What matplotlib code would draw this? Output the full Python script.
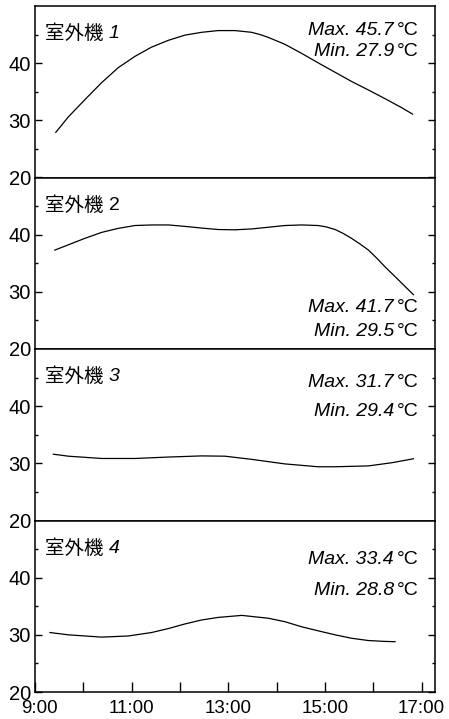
import matplotlib
matplotlib.use("Agg")
import matplotlib.pyplot as plt
import matplotlib.transforms as mtransforms

plt.rcParams['font.family'] = ['Liberation Sans', 'Noto Sans CJK JP', 'DejaVu Sans']

# ---- data (hours as decimal, temperature in deg C) ----
t1 = [9.43, 9.69, 10.03, 10.38, 10.72, 11.07, 11.41, 11.76, 12.10, 12.45, 12.79, 13.14,
      13.48, 13.66, 13.83, 14.00, 14.17, 14.52, 14.86, 15.21, 15.55, 15.90, 16.24, 16.59, 16.81]
v1 = [27.9, 30.6, 33.6, 36.6, 39.2, 41.2, 42.8, 44.0, 44.9, 45.4, 45.7, 45.7,
      45.4, 45.0, 44.5, 43.9, 43.3, 41.7, 40.05, 38.4, 36.8, 35.3, 33.8, 32.2, 31.1]

t2 = [9.41, 10.03, 10.38, 10.72, 11.07, 11.41, 11.76, 12.10, 12.45, 12.79, 13.14,
      13.48, 13.83, 14.17, 14.52, 14.86, 15.03, 15.21, 15.38, 15.55, 15.72, 15.90,
      16.07, 16.24, 16.41, 16.59, 16.83]
v2 = [37.3, 39.35, 40.4, 41.1, 41.6, 41.7, 41.7, 41.45, 41.15, 40.9, 40.85,
      41.0, 41.3, 41.6, 41.7, 41.6, 41.35, 40.9, 40.2, 39.35, 38.4, 37.3,
      35.9, 34.4, 33.0, 31.5, 29.5]

t3 = [9.38, 9.69, 10.38, 11.07, 11.76, 12.45, 12.93, 13.48, 14.17, 14.86, 15.21,
      15.90, 16.38, 16.83]
v3 = [31.6, 31.25, 30.85, 30.85, 31.1, 31.3, 31.25, 30.7, 29.9, 29.4, 29.4,
      29.55, 30.1, 30.8]

t4 = [9.31, 9.69, 10.38, 10.93, 11.41, 11.76, 12.10, 12.45, 12.79, 13.28, 13.83,
      14.17, 14.52, 14.86, 15.21, 15.55, 15.90, 16.24, 16.45]
v4 = [30.4, 30.0, 29.6, 29.8, 30.4, 31.1, 31.9, 32.6, 33.05, 33.4, 32.9,
      32.3, 31.4, 30.7, 30.0, 29.4, 29.0, 28.85, 28.8]

unit_names = ['室外機 ', '室外機 ', '室外機 ', '室外機 ']
unit_nums = ['1', '2', '3', '4']
unit_num_italic = [True, False, True, True]
max_vals = ['45.7', '41.7', '31.7', '33.4']
min_vals = ['27.9', '29.5', '29.4', '28.8']

x_ticks = [9, 11, 13, 15, 17]
x_ticklabels = ['9:00', '11:00', '13:00', '15:00', '17:00']
y_ticks = [20, 30, 40]
y_minor = [25, 35, 45]

# text positions (axes fraction) for Max / Min lines
max_y = [0.860, 0.242, 0.802, 0.773]
min_y = [0.732, 0.102, 0.638, 0.592]

times = [t1, t2, t3, t4]
vals = [v1, v2, v3, v4]

W, H = 449, 719
fig = plt.figure(figsize=(W / 100, H / 100), dpi=100)
left, right = 35 / W, 435 / W
top, bottom = 1 - 6 / H, 1 - 692 / H
ph = (top - bottom) / 4

axes = []
for i in range(4):
    ax = fig.add_axes([left, top - (i + 1) * ph, right - left, ph])
    axes.append(ax)
    ax.plot(times[i], vals[i], color='black', lw=0.9)
    ax.set_xlim(9, 9 + 400 / 48.33)
    ax.set_ylim(20, 50)
    ax.set_yticks(y_ticks)
    ax.set_yticks(y_minor, minor=True)
    ax.set_yticklabels([str(v) for v in y_ticks], fontsize=14.5)
    ax.tick_params(axis='y', which='major', direction='in', length=5, width=1,
                   left=True, right=True, pad=3)
    ax.tick_params(axis='y', which='minor', direction='in', length=2.5, width=1,
                   left=True, right=True)
    for s in ax.spines.values():
        s.set_linewidth(1.1)
    ax.set_xticks(x_ticks)
    ax.set_xticks([10, 12, 14, 16], minor=True)
    if i < 3:
        ax.tick_params(axis='x', which='both', bottom=False, top=False, labelbottom=False)
    else:
        ax.set_xticklabels(x_ticklabels, fontsize=13.5)
        ax.tick_params(axis='x', which='both', direction='in', length=7, width=1,
                       bottom=True, top=False, pad=6)
        lab0 = ax.get_xticklabels()[0]
        lab0.set_transform(lab0.get_transform() +
                           mtransforms.ScaledTranslation(4 / 100, 0, fig.dpi_scale_trans))

    # unit label
    t = ax.text(10 / 400, 0.837, unit_names[i], transform=ax.transAxes,
                ha='left', va='center', fontsize=14)
    ax.annotate(unit_nums[i], xycoords=t, xy=(1, 0.5), ha='left', va='center',
                fontsize=14, style='italic' if unit_num_italic[i] else 'normal')

    # Max / Min
    for yy, lab, val in [(max_y[i], 'Max. ', max_vals[i]), (min_y[i], 'Min. ', min_vals[i])]:
        c = ax.text(384 / 400, yy, '°C', transform=ax.transAxes, ha='right', va='center',
                    fontsize=14)
        ax.annotate(lab + val, xycoords=c, xy=(0, 0.5), xytext=(-2.5, 0),
                    textcoords='offset points', ha='right', va='center',
                    fontsize=14, style='italic')

fig.savefig('out.png', dpi=100)
